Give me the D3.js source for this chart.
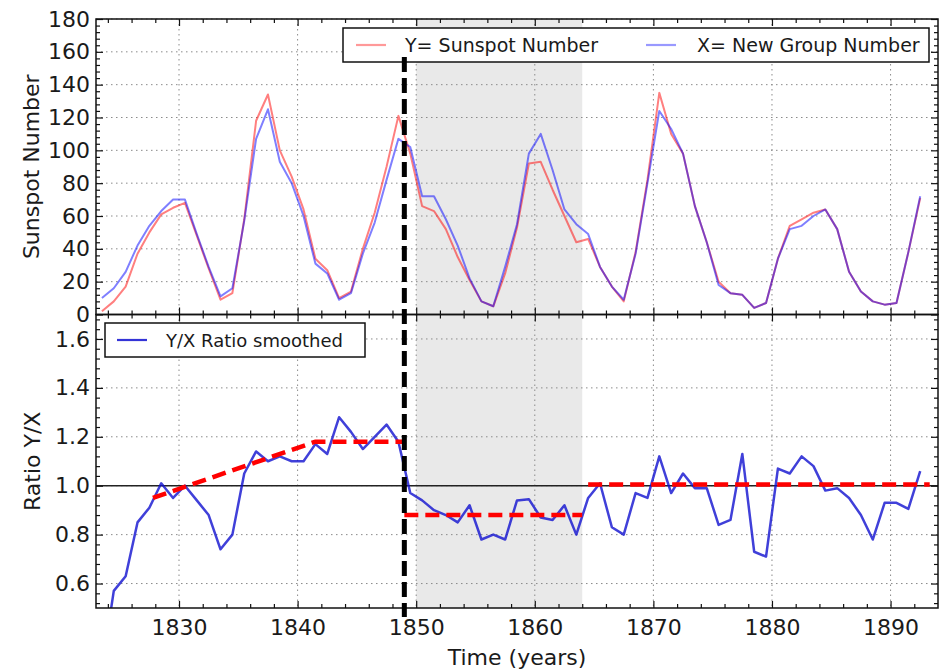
<!DOCTYPE html>
<html>
<head>
<meta charset="utf-8">
<script src="https://cdn.jsdelivr.net/npm/d3@7/dist/d3.min.js"></script>
<style>
  html, body { margin: 0; padding: 0; background: #fff; }
  svg { display: block; font-family: "DejaVu Sans", sans-serif; }
  .tick text { fill: #1a1a1a; }
</style>
</head>
<body>
<svg id="chart" width="944" height="670"></svg>
<script>
// Years (mid-year samples)
const years = [1823.5,1824.5,1825.5,1826.5,1827.5,1828.5,1829.5,1830.5,1831.5,1832.5,
  1833.5,1834.5,1835.5,1836.5,1837.5,1838.5,1839.5,1840.5,1841.5,1842.5,
  1843.5,1844.5,1845.5,1846.5,1847.5,1848.5,1849.5,1850.5,1851.5,1852.5,
  1853.5,1854.5,1855.5,1856.5,1857.5,1858.5,1859.5,1860.5,1861.5,1862.5,
  1863.5,1864.5,1865.5,1866.5,1867.5,1868.5,1869.5,1870.5,1871.5,1872.5,
  1873.5,1874.5,1875.5,1876.5,1877.5,1878.5,1879.5,1880.5,1881.5,1882.5,
  1883.5,1884.5,1885.5,1886.5,1887.5,1888.5,1889.5,1890.5,1891.5,1892.5];

// Y = Sunspot Number
const sunspotNumber = [2,8,17,37,50,61,65,68,48,28,
  9,13,58,118,134,100,84,64,34,27,
  10,14,40,62,90,121,98,66,63,52,
  35,21,8,5,25,53,92,93,76,60,
  44,46,29,17,8,38,82,135,110,98,
  66,44,20,13,12,4,7,34,54,58,
  62,64,52,26,14,8,6,7,38,71];

// X = New Group Number
const groupNumber = [10,16,26,42,54,63,70,70,49,29,
  11,16,57,107,125,93,80,60,31,25,
  9,13,37,56,82,107,102,72,72,58,
  42,22,8,5,29,55,98,110,88,64,
  55,49,29,17,9,37,80,124,113,98,
  66,44,18,13,12,4,7,34,52,54,
  60,64,52,26,14,8,6,7,38,72];

// Smoothed ratio Y/X
const ratioSmoothed = [0.25,0.57,0.63,0.85,0.91,1.01,0.95,1.00,0.94,0.88,
  0.74,0.80,1.05,1.14,1.10,1.12,1.10,1.10,1.17,1.13,
  1.28,1.22,1.15,1.20,1.25,1.18,0.97,0.94,0.90,0.88,
  0.85,0.92,0.78,0.80,0.78,0.94,0.945,0.87,0.86,0.92,
  0.80,0.95,1.01,0.83,0.80,0.97,0.95,1.12,0.97,1.05,
  0.99,0.99,0.84,0.86,1.13,0.73,0.71,1.07,1.05,1.12,
  1.08,0.98,0.99,0.95,0.88,0.78,0.93,0.93,0.905,1.06];

// Piecewise level fits of the ratio (year, ratio)
const levelFits = [
  [[1827.8, 0.95], [1841.5, 1.18], [1849, 1.18]],
  [[1849, 0.88], [1864, 0.88]],
  [[1864.5, 1.005], [1893.3, 1.005]]
];

const breakYear = 1849;          // vertical marker
const shadedSpan = [1850, 1864]; // highlighted interval
const referenceRatio = 1.0;

// Axis ticks
const xMajor = [1830, 1840, 1850, 1860, 1870, 1880, 1890];
const xMinor = [1824,1826,1828,1832,1834,1836,1838,1842,1844,1846,1848,1852,1854,1856,1858,
  1862,1864,1866,1868,1872,1874,1876,1878,1882,1884,1886,1888,1892];
const y1Major = [0, 20, 40, 60, 80, 100, 120, 140, 160, 180];
const y2Major = [0.6, 0.8, 1.0, 1.2, 1.4, 1.6];
const y2Labels = ["0.6", "0.8", "1.0", "1.2", "1.4", "1.6"];

// ---- layout ----
const L = 96, R = 938, T1 = 19, MID = 314.5, B2 = 608;
const svg = d3.select("#chart");

const x = d3.scaleLinear().domain([1823, 1894]).range([L, R]);
const y1 = d3.scaleLinear().domain([0, 180]).range([MID, T1]);
const y2 = d3.scaleLinear().domain([0.5, 1.7]).range([B2, MID]);

const y1Minor = d3.range(0, 181, 4).filter(v => v % 20 !== 0);
const y2Minor = d3.range(52, 170, 4).map(v => v / 100).filter(v => Math.round(v * 100) % 20 !== 0);

const defs = svg.append("defs");
defs.append("clipPath").attr("id", "clipTop")
  .append("rect").attr("x", L).attr("y", T1).attr("width", R - L).attr("height", MID - T1);
defs.append("clipPath").attr("id", "clipBot")
  .append("rect").attr("x", L).attr("y", MID).attr("width", R - L).attr("height", B2 - MID);

function panel(yScale, y0, y1px, yMajor, yMinor, yFmt, clipId) {
  const g = svg.append("g");
  // shaded interval
  g.append("rect")
    .attr("x", x(shadedSpan[0])).attr("width", x(shadedSpan[1]) - x(shadedSpan[0]))
    .attr("y", y0).attr("height", y1px - y0)
    .attr("fill", "#e9e9e9");
  // grid
  const grid = g.append("g").attr("stroke", "#8a8a8a").attr("stroke-width", 1)
    .attr("stroke-dasharray", "1.5,3.5");
  grid.selectAll(".gx").data(xMajor).join("line")
    .attr("x1", d => x(d)).attr("x2", d => x(d)).attr("y1", y0).attr("y2", y1px);
  grid.selectAll(".gy").data(yMajor).join("line")
    .attr("y1", d => yScale(d)).attr("y2", d => yScale(d)).attr("x1", L).attr("x2", R);

  const plot = g.append("g").attr("clip-path", `url(#${clipId})`);

  // ticks on all four sides, pointing inward
  const axes = svg.append("g").attr("class", "axes");
  const mk = (gen, tx, ty) => axes.append("g").attr("transform", `translate(${tx},${ty})`).call(gen)
    .call(s => s.select(".domain").remove())
    .call(s => s.selectAll(".tick line").attr("stroke", "#111").attr("stroke-width", 1.2));
  mk(d3.axisTop(x).tickValues(xMajor).tickSize(-7).tickFormat(""), 0, y0);
  mk(d3.axisTop(x).tickValues(xMinor).tickSize(-4).tickFormat(""), 0, y0);
  mk(d3.axisBottom(x).tickValues(xMajor).tickSize(-7).tickFormat(""), 0, y1px);
  mk(d3.axisBottom(x).tickValues(xMinor).tickSize(-4).tickFormat(""), 0, y1px);
  mk(d3.axisRight(yScale).tickValues(yMajor).tickSize(-7).tickFormat(""), R, 0);
  mk(d3.axisRight(yScale).tickValues(yMinor).tickSize(-4).tickFormat(""), R, 0);
  mk(d3.axisLeft(yScale).tickValues(yMinor).tickSize(-4).tickFormat(""), L, 0);
  mk(d3.axisLeft(yScale).tickValues(yMajor).tickSize(-7).tickPadding(6).tickFormat(yFmt), L, 0)
    .call(s => s.selectAll("text").attr("font-size", 22).attr("font-family", "DejaVu Sans"));

  return { g, plot, axes };
}

// ---- upper panel: sunspot and group numbers ----
const upper = panel(y1, T1, MID, y1Major, y1Minor, d3.format("d"), "clipTop");
const line1 = d3.line().x((d, i) => x(years[i])).y(d => y1(d));
upper.plot.append("path").datum(sunspotNumber).attr("d", line1)
  .attr("fill", "none").attr("stroke", "#ff0000").attr("stroke-opacity", 0.5)
  .attr("stroke-width", 2).attr("stroke-linejoin", "round");
upper.plot.append("path").datum(groupNumber).attr("d", line1)
  .attr("fill", "none").attr("stroke", "#0000ff").attr("stroke-opacity", 0.5)
  .attr("stroke-width", 2).attr("stroke-linejoin", "round");

// ---- lower panel: ratio ----
const lower = panel(y2, MID, B2, y2Major, y2Minor, (d, i) => y2Labels[i], "clipBot");
lower.plot.append("line")
  .attr("x1", L).attr("x2", R).attr("y1", y2(referenceRatio)).attr("y2", y2(referenceRatio))
  .attr("stroke", "#222").attr("stroke-width", 1.5);
const line2 = d3.line().x((d, i) => x(years[i])).y(d => y2(d));
lower.plot.append("path").datum(ratioSmoothed).attr("d", line2)
  .attr("fill", "none").attr("stroke", "#1010d0").attr("stroke-opacity", 0.8)
  .attr("stroke-width", 2.5).attr("stroke-linejoin", "round");
const fitLine = d3.line().x(d => x(d[0])).y(d => y2(d[1]));
lower.plot.selectAll(".fit").data(levelFits).join("path")
  .attr("d", fitLine).attr("fill", "none").attr("stroke", "#ff0000")
  .attr("stroke-width", 4.5).attr("stroke-dasharray", "14,7");

// x tick labels under the lower panel
svg.append("g").attr("transform", `translate(0,${B2})`)
  .call(d3.axisBottom(x).tickValues(xMajor).tickSize(0).tickPadding(11).tickFormat(d3.format("d")))
  .call(s => s.select(".domain").remove())
  .call(s => s.selectAll("text").attr("font-size", 22).attr("font-family", "DejaVu Sans"));

// frames
[[T1, MID], [MID, B2]].forEach(([a, b]) => {
  svg.append("rect").attr("x", L).attr("y", a).attr("width", R - L).attr("height", b - a)
    .attr("fill", "none").attr("stroke", "#111").attr("stroke-width", 1.5);
});

// axis titles
const title = (txt, tx, ty, rot) => svg.append("text")
  .attr("transform", `translate(${tx},${ty}) rotate(${rot})`)
  .attr("text-anchor", "middle").attr("dominant-baseline", "central")
  .attr("font-size", 22).attr("fill", "#1a1a1a").text(txt);
title("Sunspot Number", 31, (T1 + MID) / 2, -90);
title("Ratio Y/X", 32, (MID + B2) / 2, -90);
title("Time (years)", (L + R) / 2, 657, 0);

// legends
function legend(x0, yTop, w, h, items, fs) {
  const g = svg.append("g");
  g.append("rect").attr("x", x0).attr("y", yTop).attr("width", w).attr("height", h)
    .attr("fill", "#fff").attr("stroke", "#111").attr("stroke-width", 1.5);
  items.forEach(it => {
    g.append("line").attr("x1", it.lx).attr("x2", it.lx + 30)
      .attr("y1", yTop + h / 2).attr("y2", yTop + h / 2)
      .attr("stroke", it.color).attr("stroke-opacity", it.opacity).attr("stroke-width", 2.2);
    g.append("text").attr("x", it.tx).attr("y", yTop + h / 2)
      .attr("dominant-baseline", "central").attr("font-size", fs).attr("fill", "#1a1a1a")
      .text(it.label);
  });
}
legend(343, 28, 586, 34, [
  { lx: 356, tx: 405, color: "#ff0000", opacity: 0.4, label: "Y= Sunspot Number" },
  { lx: 646, tx: 697, color: "#0000ff", opacity: 0.4, label: "X= New Group Number" }
], 19);
legend(105, 323, 260, 34, [
  { lx: 117, tx: 166, color: "#1010d0", opacity: 0.85, label: "Y/X Ratio smoothed" }
], 18);

// vertical marker at the break year
svg.append("line")
  .attr("x1", x(breakYear)).attr("x2", x(breakYear)).attr("y1", 57).attr("y2", 617)
  .attr("stroke", "#000").attr("stroke-width", 5).attr("stroke-dasharray", "15,6");
</script>
</body>
</html>
